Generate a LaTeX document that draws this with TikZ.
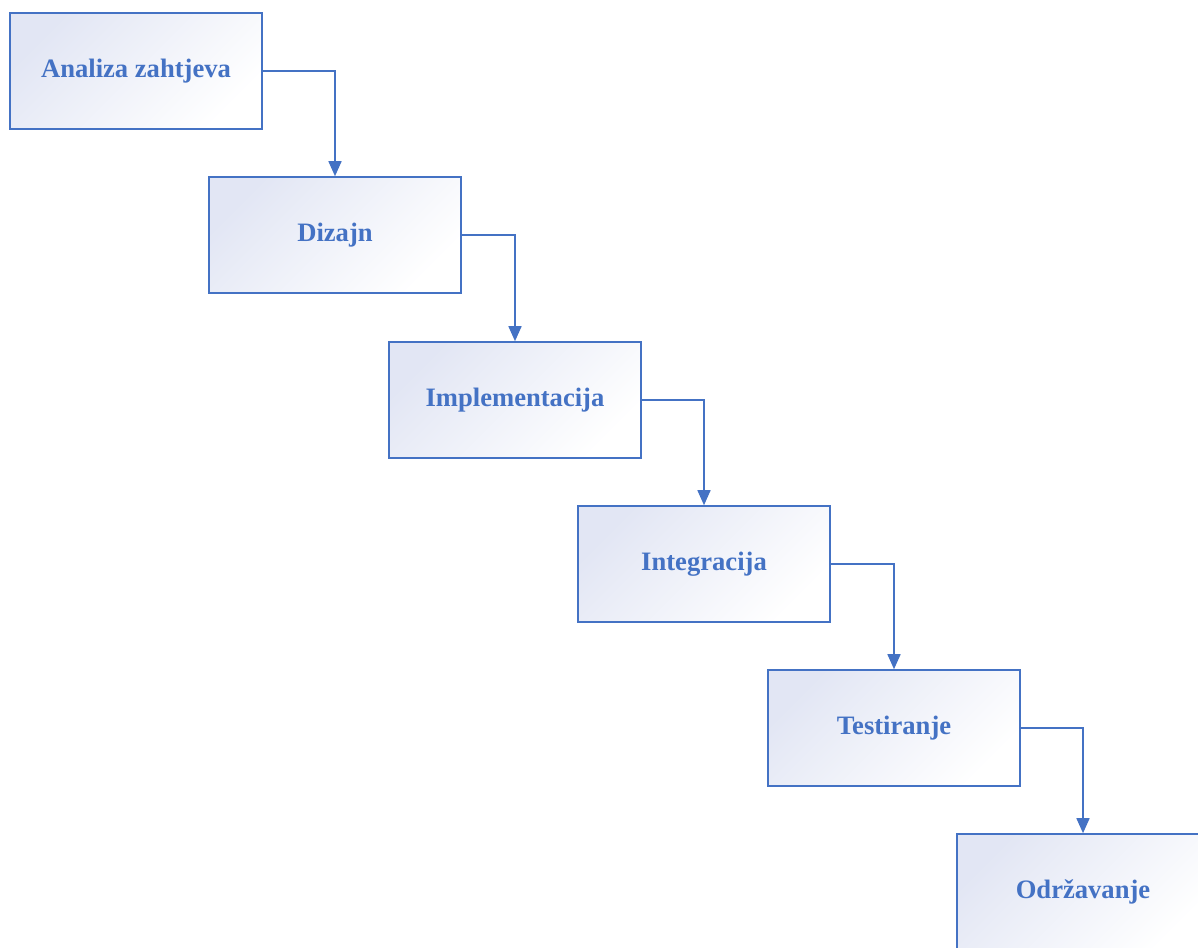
\documentclass[tikz,border=0pt]{standalone}
\usepackage{fontspec}
\setmainfont{Liberation Serif}
\usetikzlibrary{positioning,arrows.meta}
\definecolor{phaseblue}{RGB}{68,114,196}
\definecolor{phasetint}{RGB}{226,230,244}

\begin{document}
\begin{tikzpicture}[align=center, main/.style = {draw = phaseblue, line width = 0.8pt, minimum width = 126pt, minimum height = 58pt, shading = axis, top color = phasetint, bottom color = white, shading angle = 45, text = phaseblue, font = \bfseries\fontsize{13.3}{16}\selectfont}, flow/.style = {draw = phaseblue, line width = 0.8pt, -{Triangle[length=7.5pt, width=6.5pt]}}]
	\useasboundingbox (0,0) rectangle (599pt,-473.5pt);
	\clip (0,0) rectangle (599pt,-473.5pt);
	\node[main] (1) at (68pt,-35.5pt) {Analiza zahtjeva};
	\node[main] (2) [below right = 23.2pt and -27.3pt of 1] {Dizajn};
	\node[main] (3) [below right = 23.7pt and -36.8pt of 2] {Implementacija};
	\node[main] (4) [below right = 23.2pt and -32.3pt of 3] {Integracija};
	\node[main] (5) [below right = 23.2pt and -31.8pt of 4] {Testiranje};
	\node[main] (6) [below right = 23.2pt and -32.3pt of 5] {Održavanje};
	\draw[flow] (1) -| (2);
	\draw[flow] (2) -| (3);
	\draw[flow] (3) -| (4);
	\draw[flow] (4) -| (5);
	\draw[flow] (5) -| (6);
\end{tikzpicture}
\end{document}
